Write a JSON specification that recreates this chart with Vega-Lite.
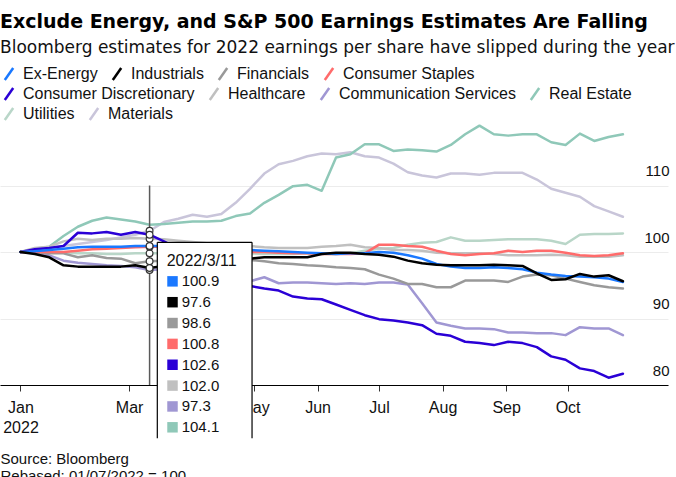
{
"$schema":"https://vega.github.io/schema/vega-lite/v6.json",
"width":668,"height":266,
"autosize":{"type":"none"},
"padding":{"left":0,"top":119,"right":8,"bottom":92},
"background":"#ffffff",
"title":{"text":"Exclude Energy, and S&P 500 Earnings Estimates Are Falling","subtitle":"Bloomberg estimates for 2022 earnings per share have slipped during the year","anchor":"start","frame":"group","offset":10,"font":"DejaVu Sans","fontSize":19,"fontWeight":"bold","color":"#000000","subtitleFont":"DejaVu Sans","subtitleFontSize":17,"subtitleColor":"#111111","subtitlePadding":8},
"config":{"view":{"stroke":null},"font":"Liberation Sans","axis":{"labelFont":"Liberation Sans","titleFont":"Liberation Sans"},
"legend":{"orient":"none","legendX":1,"direction":"horizontal","symbolType":"M-0.7,1L0.7,-1","symbolSize":144,"symbolStrokeWidth":2.5,"labelFont":"Liberation Sans","labelFontSize":16,"labelColor":"#111111","labelOffset":6,"labelLimit":300,"columnPadding":9,"title":null}},
"data":{"format":{"parse":{"date":"utc:'%Y-%m-%d'"}},"values":[
{"date":"2022-01-07","sector":"Materials","value":100.0},{"date":"2022-01-14","sector":"Materials","value":100.3},{"date":"2022-01-21","sector":"Materials","value":100.6},{"date":"2022-01-28","sector":"Materials","value":100.9},{"date":"2022-02-04","sector":"Materials","value":101.2},{"date":"2022-02-11","sector":"Materials","value":101.5},{"date":"2022-02-18","sector":"Materials","value":101.8},{"date":"2022-02-25","sector":"Materials","value":102.2},{"date":"2022-03-04","sector":"Materials","value":102.6},{"date":"2022-03-11","sector":"Materials","value":103.2},{"date":"2022-03-18","sector":"Materials","value":104.5},{"date":"2022-03-25","sector":"Materials","value":105.0},{"date":"2022-04-01","sector":"Materials","value":105.6},{"date":"2022-04-08","sector":"Materials","value":105.3},{"date":"2022-04-15","sector":"Materials","value":105.7},{"date":"2022-04-22","sector":"Materials","value":107.4},{"date":"2022-04-29","sector":"Materials","value":109.5},{"date":"2022-05-06","sector":"Materials","value":111.8},{"date":"2022-05-13","sector":"Materials","value":113.2},{"date":"2022-05-20","sector":"Materials","value":113.7},{"date":"2022-05-27","sector":"Materials","value":114.4},{"date":"2022-06-03","sector":"Materials","value":114.8},{"date":"2022-06-10","sector":"Materials","value":114.7},{"date":"2022-06-17","sector":"Materials","value":115.0},{"date":"2022-06-24","sector":"Materials","value":114.4},{"date":"2022-07-01","sector":"Materials","value":114.2},{"date":"2022-07-08","sector":"Materials","value":113.3},{"date":"2022-07-15","sector":"Materials","value":112.0},{"date":"2022-07-22","sector":"Materials","value":111.5},{"date":"2022-07-29","sector":"Materials","value":111.2},{"date":"2022-08-05","sector":"Materials","value":111.8},{"date":"2022-08-12","sector":"Materials","value":111.8},{"date":"2022-08-19","sector":"Materials","value":111.6},{"date":"2022-08-26","sector":"Materials","value":111.9},{"date":"2022-09-02","sector":"Materials","value":111.9},{"date":"2022-09-09","sector":"Materials","value":111.9},{"date":"2022-09-16","sector":"Materials","value":110.9},{"date":"2022-09-23","sector":"Materials","value":109.5},{"date":"2022-09-30","sector":"Materials","value":108.9},{"date":"2022-10-07","sector":"Materials","value":108.3},{"date":"2022-10-14","sector":"Materials","value":106.9},{"date":"2022-10-21","sector":"Materials","value":106.1},{"date":"2022-10-28","sector":"Materials","value":105.3},
{"date":"2022-01-07","sector":"Real Estate","value":100.0},{"date":"2022-01-14","sector":"Real Estate","value":100.5},{"date":"2022-01-21","sector":"Real Estate","value":100.8},{"date":"2022-01-28","sector":"Real Estate","value":102.4},{"date":"2022-02-04","sector":"Real Estate","value":103.8},{"date":"2022-02-11","sector":"Real Estate","value":104.7},{"date":"2022-02-18","sector":"Real Estate","value":105.2},{"date":"2022-02-25","sector":"Real Estate","value":104.9},{"date":"2022-03-04","sector":"Real Estate","value":104.6},{"date":"2022-03-11","sector":"Real Estate","value":104.1},{"date":"2022-03-18","sector":"Real Estate","value":104.2},{"date":"2022-03-25","sector":"Real Estate","value":104.4},{"date":"2022-04-01","sector":"Real Estate","value":104.6},{"date":"2022-04-08","sector":"Real Estate","value":104.6},{"date":"2022-04-15","sector":"Real Estate","value":104.7},{"date":"2022-04-22","sector":"Real Estate","value":105.4},{"date":"2022-04-29","sector":"Real Estate","value":105.8},{"date":"2022-05-06","sector":"Real Estate","value":107.4},{"date":"2022-05-13","sector":"Real Estate","value":108.6},{"date":"2022-05-20","sector":"Real Estate","value":109.9},{"date":"2022-05-27","sector":"Real Estate","value":110.1},{"date":"2022-06-03","sector":"Real Estate","value":109.2},{"date":"2022-06-10","sector":"Real Estate","value":114.2},{"date":"2022-06-17","sector":"Real Estate","value":114.7},{"date":"2022-06-24","sector":"Real Estate","value":116.2},{"date":"2022-07-01","sector":"Real Estate","value":116.2},{"date":"2022-07-08","sector":"Real Estate","value":115.2},{"date":"2022-07-15","sector":"Real Estate","value":115.4},{"date":"2022-07-22","sector":"Real Estate","value":115.3},{"date":"2022-07-29","sector":"Real Estate","value":115.1},{"date":"2022-08-05","sector":"Real Estate","value":116.1},{"date":"2022-08-12","sector":"Real Estate","value":117.7},{"date":"2022-08-19","sector":"Real Estate","value":119.0},{"date":"2022-08-26","sector":"Real Estate","value":117.7},{"date":"2022-09-02","sector":"Real Estate","value":117.5},{"date":"2022-09-09","sector":"Real Estate","value":117.7},{"date":"2022-09-16","sector":"Real Estate","value":117.7},{"date":"2022-09-23","sector":"Real Estate","value":116.5},{"date":"2022-09-30","sector":"Real Estate","value":116.1},{"date":"2022-10-07","sector":"Real Estate","value":117.8},{"date":"2022-10-14","sector":"Real Estate","value":116.7},{"date":"2022-10-21","sector":"Real Estate","value":117.3},{"date":"2022-10-28","sector":"Real Estate","value":117.7},
{"date":"2022-01-07","sector":"Utilities","value":100.0},{"date":"2022-01-14","sector":"Utilities","value":100.1},{"date":"2022-01-21","sector":"Utilities","value":100.0},{"date":"2022-01-28","sector":"Utilities","value":99.9},{"date":"2022-02-04","sector":"Utilities","value":99.8},{"date":"2022-02-11","sector":"Utilities","value":99.8},{"date":"2022-02-18","sector":"Utilities","value":99.7},{"date":"2022-02-25","sector":"Utilities","value":99.7},{"date":"2022-03-04","sector":"Utilities","value":99.8},{"date":"2022-03-11","sector":"Utilities","value":99.8},{"date":"2022-03-18","sector":"Utilities","value":99.8},{"date":"2022-03-25","sector":"Utilities","value":99.8},{"date":"2022-04-01","sector":"Utilities","value":99.7},{"date":"2022-04-08","sector":"Utilities","value":99.7},{"date":"2022-04-15","sector":"Utilities","value":99.7},{"date":"2022-04-22","sector":"Utilities","value":99.7},{"date":"2022-04-29","sector":"Utilities","value":99.8},{"date":"2022-05-06","sector":"Utilities","value":99.7},{"date":"2022-05-13","sector":"Utilities","value":99.7},{"date":"2022-05-20","sector":"Utilities","value":99.7},{"date":"2022-05-27","sector":"Utilities","value":99.8},{"date":"2022-06-03","sector":"Utilities","value":99.7},{"date":"2022-06-10","sector":"Utilities","value":99.7},{"date":"2022-06-17","sector":"Utilities","value":99.8},{"date":"2022-06-24","sector":"Utilities","value":100.2},{"date":"2022-07-01","sector":"Utilities","value":100.5},{"date":"2022-07-08","sector":"Utilities","value":100.6},{"date":"2022-07-15","sector":"Utilities","value":101.1},{"date":"2022-07-22","sector":"Utilities","value":101.4},{"date":"2022-07-29","sector":"Utilities","value":101.5},{"date":"2022-08-05","sector":"Utilities","value":102.2},{"date":"2022-08-12","sector":"Utilities","value":101.7},{"date":"2022-08-19","sector":"Utilities","value":101.7},{"date":"2022-08-26","sector":"Utilities","value":101.8},{"date":"2022-09-02","sector":"Utilities","value":101.9},{"date":"2022-09-09","sector":"Utilities","value":101.9},{"date":"2022-09-16","sector":"Utilities","value":101.9},{"date":"2022-09-23","sector":"Utilities","value":101.7},{"date":"2022-09-30","sector":"Utilities","value":101.2},{"date":"2022-10-07","sector":"Utilities","value":102.6},{"date":"2022-10-14","sector":"Utilities","value":102.7},{"date":"2022-10-21","sector":"Utilities","value":102.7},{"date":"2022-10-28","sector":"Utilities","value":102.8},
{"date":"2022-01-07","sector":"Healthcare","value":100.0},{"date":"2022-01-14","sector":"Healthcare","value":100.6},{"date":"2022-01-21","sector":"Healthcare","value":100.8},{"date":"2022-01-28","sector":"Healthcare","value":101.6},{"date":"2022-02-04","sector":"Healthcare","value":102.0},{"date":"2022-02-11","sector":"Healthcare","value":101.8},{"date":"2022-02-18","sector":"Healthcare","value":102.0},{"date":"2022-02-25","sector":"Healthcare","value":102.0},{"date":"2022-03-04","sector":"Healthcare","value":102.1},{"date":"2022-03-11","sector":"Healthcare","value":102.0},{"date":"2022-03-18","sector":"Healthcare","value":101.9},{"date":"2022-03-25","sector":"Healthcare","value":101.7},{"date":"2022-04-01","sector":"Healthcare","value":101.5},{"date":"2022-04-08","sector":"Healthcare","value":101.3},{"date":"2022-04-15","sector":"Healthcare","value":101.1},{"date":"2022-04-22","sector":"Healthcare","value":101.0},{"date":"2022-04-29","sector":"Healthcare","value":100.9},{"date":"2022-05-06","sector":"Healthcare","value":100.7},{"date":"2022-05-13","sector":"Healthcare","value":100.6},{"date":"2022-05-20","sector":"Healthcare","value":100.6},{"date":"2022-05-27","sector":"Healthcare","value":100.6},{"date":"2022-06-03","sector":"Healthcare","value":100.8},{"date":"2022-06-10","sector":"Healthcare","value":100.9},{"date":"2022-06-17","sector":"Healthcare","value":101.1},{"date":"2022-06-24","sector":"Healthcare","value":100.7},{"date":"2022-07-01","sector":"Healthcare","value":100.6},{"date":"2022-07-08","sector":"Healthcare","value":100.3},{"date":"2022-07-15","sector":"Healthcare","value":100.3},{"date":"2022-07-22","sector":"Healthcare","value":100.2},{"date":"2022-07-29","sector":"Healthcare","value":99.9},{"date":"2022-08-05","sector":"Healthcare","value":99.8},{"date":"2022-08-12","sector":"Healthcare","value":99.8},{"date":"2022-08-19","sector":"Healthcare","value":99.8},{"date":"2022-08-26","sector":"Healthcare","value":99.7},{"date":"2022-09-02","sector":"Healthcare","value":99.5},{"date":"2022-09-09","sector":"Healthcare","value":99.5},{"date":"2022-09-16","sector":"Healthcare","value":99.5},{"date":"2022-09-23","sector":"Healthcare","value":99.6},{"date":"2022-09-30","sector":"Healthcare","value":99.5},{"date":"2022-10-07","sector":"Healthcare","value":99.3},{"date":"2022-10-14","sector":"Healthcare","value":99.3},{"date":"2022-10-21","sector":"Healthcare","value":99.3},{"date":"2022-10-28","sector":"Healthcare","value":99.5},
{"date":"2022-01-07","sector":"Communication Services","value":100.0},{"date":"2022-01-14","sector":"Communication Services","value":99.8},{"date":"2022-01-21","sector":"Communication Services","value":99.5},{"date":"2022-01-28","sector":"Communication Services","value":98.7},{"date":"2022-02-04","sector":"Communication Services","value":98.4},{"date":"2022-02-11","sector":"Communication Services","value":98.2},{"date":"2022-02-18","sector":"Communication Services","value":98.0},{"date":"2022-02-25","sector":"Communication Services","value":97.9},{"date":"2022-03-04","sector":"Communication Services","value":97.7},{"date":"2022-03-11","sector":"Communication Services","value":97.3},{"date":"2022-03-18","sector":"Communication Services","value":97.4},{"date":"2022-03-25","sector":"Communication Services","value":97.2},{"date":"2022-04-01","sector":"Communication Services","value":97.0},{"date":"2022-04-08","sector":"Communication Services","value":96.9},{"date":"2022-04-15","sector":"Communication Services","value":96.6},{"date":"2022-04-22","sector":"Communication Services","value":96.2},{"date":"2022-04-29","sector":"Communication Services","value":95.6},{"date":"2022-05-06","sector":"Communication Services","value":96.2},{"date":"2022-05-13","sector":"Communication Services","value":95.3},{"date":"2022-05-20","sector":"Communication Services","value":95.4},{"date":"2022-05-27","sector":"Communication Services","value":95.4},{"date":"2022-06-03","sector":"Communication Services","value":95.3},{"date":"2022-06-10","sector":"Communication Services","value":95.2},{"date":"2022-06-17","sector":"Communication Services","value":95.3},{"date":"2022-06-24","sector":"Communication Services","value":95.2},{"date":"2022-07-01","sector":"Communication Services","value":95.4},{"date":"2022-07-08","sector":"Communication Services","value":95.4},{"date":"2022-07-15","sector":"Communication Services","value":95.1},{"date":"2022-07-22","sector":"Communication Services","value":92.3},{"date":"2022-07-29","sector":"Communication Services","value":89.4},{"date":"2022-08-05","sector":"Communication Services","value":88.9},{"date":"2022-08-12","sector":"Communication Services","value":88.5},{"date":"2022-08-19","sector":"Communication Services","value":88.5},{"date":"2022-08-26","sector":"Communication Services","value":88.4},{"date":"2022-09-02","sector":"Communication Services","value":87.9},{"date":"2022-09-09","sector":"Communication Services","value":87.9},{"date":"2022-09-16","sector":"Communication Services","value":87.8},{"date":"2022-09-23","sector":"Communication Services","value":87.8},{"date":"2022-09-30","sector":"Communication Services","value":87.5},{"date":"2022-10-07","sector":"Communication Services","value":88.7},{"date":"2022-10-14","sector":"Communication Services","value":88.5},{"date":"2022-10-21","sector":"Communication Services","value":88.5},{"date":"2022-10-28","sector":"Communication Services","value":87.5},
{"date":"2022-01-07","sector":"Financials","value":100.0},{"date":"2022-01-14","sector":"Financials","value":99.9},{"date":"2022-01-21","sector":"Financials","value":99.8},{"date":"2022-01-28","sector":"Financials","value":99.8},{"date":"2022-02-04","sector":"Financials","value":99.2},{"date":"2022-02-11","sector":"Financials","value":99.5},{"date":"2022-02-18","sector":"Financials","value":99.1},{"date":"2022-02-25","sector":"Financials","value":99.0},{"date":"2022-03-04","sector":"Financials","value":98.3},{"date":"2022-03-11","sector":"Financials","value":98.6},{"date":"2022-03-18","sector":"Financials","value":98.7},{"date":"2022-03-25","sector":"Financials","value":98.9},{"date":"2022-04-01","sector":"Financials","value":98.8},{"date":"2022-04-08","sector":"Financials","value":98.9},{"date":"2022-04-15","sector":"Financials","value":98.8},{"date":"2022-04-22","sector":"Financials","value":98.8},{"date":"2022-04-29","sector":"Financials","value":98.8},{"date":"2022-05-06","sector":"Financials","value":98.6},{"date":"2022-05-13","sector":"Financials","value":98.3},{"date":"2022-05-20","sector":"Financials","value":98.2},{"date":"2022-05-27","sector":"Financials","value":98.0},{"date":"2022-06-03","sector":"Financials","value":97.9},{"date":"2022-06-10","sector":"Financials","value":97.7},{"date":"2022-06-17","sector":"Financials","value":97.6},{"date":"2022-06-24","sector":"Financials","value":97.4},{"date":"2022-07-01","sector":"Financials","value":96.6},{"date":"2022-07-08","sector":"Financials","value":96.0},{"date":"2022-07-15","sector":"Financials","value":95.2},{"date":"2022-07-22","sector":"Financials","value":95.2},{"date":"2022-07-29","sector":"Financials","value":94.7},{"date":"2022-08-05","sector":"Financials","value":94.7},{"date":"2022-08-12","sector":"Financials","value":95.7},{"date":"2022-08-19","sector":"Financials","value":95.7},{"date":"2022-08-26","sector":"Financials","value":95.7},{"date":"2022-09-02","sector":"Financials","value":95.5},{"date":"2022-09-09","sector":"Financials","value":96.3},{"date":"2022-09-16","sector":"Financials","value":96.6},{"date":"2022-09-23","sector":"Financials","value":96.5},{"date":"2022-09-30","sector":"Financials","value":96.0},{"date":"2022-10-07","sector":"Financials","value":95.5},{"date":"2022-10-14","sector":"Financials","value":95.0},{"date":"2022-10-21","sector":"Financials","value":94.7},{"date":"2022-10-28","sector":"Financials","value":94.5},
{"date":"2022-01-07","sector":"Consumer Staples","value":100.0},{"date":"2022-01-14","sector":"Consumer Staples","value":100.0},{"date":"2022-01-21","sector":"Consumer Staples","value":100.0},{"date":"2022-01-28","sector":"Consumer Staples","value":100.0},{"date":"2022-02-04","sector":"Consumer Staples","value":100.2},{"date":"2022-02-11","sector":"Consumer Staples","value":100.4},{"date":"2022-02-18","sector":"Consumer Staples","value":100.5},{"date":"2022-02-25","sector":"Consumer Staples","value":100.6},{"date":"2022-03-04","sector":"Consumer Staples","value":100.7},{"date":"2022-03-11","sector":"Consumer Staples","value":100.8},{"date":"2022-03-18","sector":"Consumer Staples","value":100.8},{"date":"2022-03-25","sector":"Consumer Staples","value":100.6},{"date":"2022-04-01","sector":"Consumer Staples","value":100.4},{"date":"2022-04-08","sector":"Consumer Staples","value":100.3},{"date":"2022-04-15","sector":"Consumer Staples","value":100.2},{"date":"2022-04-22","sector":"Consumer Staples","value":100.1},{"date":"2022-04-29","sector":"Consumer Staples","value":100.0},{"date":"2022-05-06","sector":"Consumer Staples","value":100.0},{"date":"2022-05-13","sector":"Consumer Staples","value":99.9},{"date":"2022-05-20","sector":"Consumer Staples","value":99.8},{"date":"2022-05-27","sector":"Consumer Staples","value":99.8},{"date":"2022-06-03","sector":"Consumer Staples","value":99.7},{"date":"2022-06-10","sector":"Consumer Staples","value":99.7},{"date":"2022-06-17","sector":"Consumer Staples","value":99.7},{"date":"2022-06-24","sector":"Consumer Staples","value":99.8},{"date":"2022-07-01","sector":"Consumer Staples","value":101.1},{"date":"2022-07-08","sector":"Consumer Staples","value":101.1},{"date":"2022-07-15","sector":"Consumer Staples","value":100.9},{"date":"2022-07-22","sector":"Consumer Staples","value":100.8},{"date":"2022-07-29","sector":"Consumer Staples","value":100.2},{"date":"2022-08-05","sector":"Consumer Staples","value":99.7},{"date":"2022-08-12","sector":"Consumer Staples","value":99.5},{"date":"2022-08-19","sector":"Consumer Staples","value":99.7},{"date":"2022-08-26","sector":"Consumer Staples","value":99.8},{"date":"2022-09-02","sector":"Consumer Staples","value":100.2},{"date":"2022-09-09","sector":"Consumer Staples","value":100.0},{"date":"2022-09-16","sector":"Consumer Staples","value":100.2},{"date":"2022-09-23","sector":"Consumer Staples","value":100.2},{"date":"2022-09-30","sector":"Consumer Staples","value":99.9},{"date":"2022-10-07","sector":"Consumer Staples","value":99.5},{"date":"2022-10-14","sector":"Consumer Staples","value":99.4},{"date":"2022-10-21","sector":"Consumer Staples","value":99.5},{"date":"2022-10-28","sector":"Consumer Staples","value":99.8},
{"date":"2022-01-07","sector":"Consumer Discretionary","value":100.0},{"date":"2022-01-14","sector":"Consumer Discretionary","value":100.4},{"date":"2022-01-21","sector":"Consumer Discretionary","value":100.6},{"date":"2022-01-28","sector":"Consumer Discretionary","value":100.9},{"date":"2022-02-04","sector":"Consumer Discretionary","value":102.9},{"date":"2022-02-11","sector":"Consumer Discretionary","value":102.8},{"date":"2022-02-18","sector":"Consumer Discretionary","value":103.0},{"date":"2022-02-25","sector":"Consumer Discretionary","value":102.6},{"date":"2022-03-04","sector":"Consumer Discretionary","value":103.0},{"date":"2022-03-11","sector":"Consumer Discretionary","value":102.6},{"date":"2022-03-18","sector":"Consumer Discretionary","value":101.6},{"date":"2022-03-25","sector":"Consumer Discretionary","value":100.5},{"date":"2022-04-01","sector":"Consumer Discretionary","value":99.3},{"date":"2022-04-08","sector":"Consumer Discretionary","value":98.0},{"date":"2022-04-15","sector":"Consumer Discretionary","value":96.9},{"date":"2022-04-22","sector":"Consumer Discretionary","value":95.8},{"date":"2022-04-29","sector":"Consumer Discretionary","value":94.9},{"date":"2022-05-06","sector":"Consumer Discretionary","value":94.5},{"date":"2022-05-13","sector":"Consumer Discretionary","value":94.2},{"date":"2022-05-20","sector":"Consumer Discretionary","value":93.3},{"date":"2022-05-27","sector":"Consumer Discretionary","value":93.0},{"date":"2022-06-03","sector":"Consumer Discretionary","value":92.9},{"date":"2022-06-10","sector":"Consumer Discretionary","value":92.1},{"date":"2022-06-17","sector":"Consumer Discretionary","value":91.3},{"date":"2022-06-24","sector":"Consumer Discretionary","value":90.5},{"date":"2022-07-01","sector":"Consumer Discretionary","value":89.9},{"date":"2022-07-08","sector":"Consumer Discretionary","value":89.7},{"date":"2022-07-15","sector":"Consumer Discretionary","value":89.4},{"date":"2022-07-22","sector":"Consumer Discretionary","value":89.0},{"date":"2022-07-29","sector":"Consumer Discretionary","value":87.7},{"date":"2022-08-05","sector":"Consumer Discretionary","value":87.4},{"date":"2022-08-12","sector":"Consumer Discretionary","value":86.5},{"date":"2022-08-19","sector":"Consumer Discretionary","value":86.3},{"date":"2022-08-26","sector":"Consumer Discretionary","value":86.0},{"date":"2022-09-02","sector":"Consumer Discretionary","value":86.5},{"date":"2022-09-09","sector":"Consumer Discretionary","value":86.3},{"date":"2022-09-16","sector":"Consumer Discretionary","value":85.7},{"date":"2022-09-23","sector":"Consumer Discretionary","value":84.3},{"date":"2022-09-30","sector":"Consumer Discretionary","value":83.8},{"date":"2022-10-07","sector":"Consumer Discretionary","value":82.5},{"date":"2022-10-14","sector":"Consumer Discretionary","value":82.1},{"date":"2022-10-21","sector":"Consumer Discretionary","value":81.1},{"date":"2022-10-28","sector":"Consumer Discretionary","value":81.7},
{"date":"2022-01-07","sector":"Ex-Energy","value":100.0},{"date":"2022-01-14","sector":"Ex-Energy","value":100.1},{"date":"2022-01-21","sector":"Ex-Energy","value":100.3},{"date":"2022-01-28","sector":"Ex-Energy","value":100.5},{"date":"2022-02-04","sector":"Ex-Energy","value":100.7},{"date":"2022-02-11","sector":"Ex-Energy","value":100.8},{"date":"2022-02-18","sector":"Ex-Energy","value":100.8},{"date":"2022-02-25","sector":"Ex-Energy","value":100.8},{"date":"2022-03-04","sector":"Ex-Energy","value":100.9},{"date":"2022-03-11","sector":"Ex-Energy","value":100.9},{"date":"2022-03-18","sector":"Ex-Energy","value":100.9},{"date":"2022-03-25","sector":"Ex-Energy","value":100.8},{"date":"2022-04-01","sector":"Ex-Energy","value":100.7},{"date":"2022-04-08","sector":"Ex-Energy","value":100.6},{"date":"2022-04-15","sector":"Ex-Energy","value":100.5},{"date":"2022-04-22","sector":"Ex-Energy","value":100.4},{"date":"2022-04-29","sector":"Ex-Energy","value":100.3},{"date":"2022-05-06","sector":"Ex-Energy","value":100.2},{"date":"2022-05-13","sector":"Ex-Energy","value":100.1},{"date":"2022-05-20","sector":"Ex-Energy","value":100.0},{"date":"2022-05-27","sector":"Ex-Energy","value":99.9},{"date":"2022-06-03","sector":"Ex-Energy","value":99.8},{"date":"2022-06-10","sector":"Ex-Energy","value":99.7},{"date":"2022-06-17","sector":"Ex-Energy","value":99.8},{"date":"2022-06-24","sector":"Ex-Energy","value":99.8},{"date":"2022-07-01","sector":"Ex-Energy","value":100.0},{"date":"2022-07-08","sector":"Ex-Energy","value":99.9},{"date":"2022-07-15","sector":"Ex-Energy","value":99.5},{"date":"2022-07-22","sector":"Ex-Energy","value":99.0},{"date":"2022-07-29","sector":"Ex-Energy","value":98.2},{"date":"2022-08-05","sector":"Ex-Energy","value":97.8},{"date":"2022-08-12","sector":"Ex-Energy","value":97.6},{"date":"2022-08-19","sector":"Ex-Energy","value":97.6},{"date":"2022-08-26","sector":"Ex-Energy","value":97.7},{"date":"2022-09-02","sector":"Ex-Energy","value":97.6},{"date":"2022-09-09","sector":"Ex-Energy","value":97.4},{"date":"2022-09-16","sector":"Ex-Energy","value":96.9},{"date":"2022-09-23","sector":"Ex-Energy","value":96.6},{"date":"2022-09-30","sector":"Ex-Energy","value":96.4},{"date":"2022-10-07","sector":"Ex-Energy","value":96.3},{"date":"2022-10-14","sector":"Ex-Energy","value":96.2},{"date":"2022-10-21","sector":"Ex-Energy","value":96.0},{"date":"2022-10-28","sector":"Ex-Energy","value":95.5},
{"date":"2022-01-07","sector":"Industrials","value":100.0},{"date":"2022-01-14","sector":"Industrials","value":99.7},{"date":"2022-01-21","sector":"Industrials","value":99.2},{"date":"2022-01-28","sector":"Industrials","value":98.0},{"date":"2022-02-04","sector":"Industrials","value":97.8},{"date":"2022-02-11","sector":"Industrials","value":97.8},{"date":"2022-02-18","sector":"Industrials","value":97.8},{"date":"2022-02-25","sector":"Industrials","value":97.8},{"date":"2022-03-04","sector":"Industrials","value":98.0},{"date":"2022-03-11","sector":"Industrials","value":97.6},{"date":"2022-03-18","sector":"Industrials","value":97.9},{"date":"2022-03-25","sector":"Industrials","value":98.2},{"date":"2022-04-01","sector":"Industrials","value":98.5},{"date":"2022-04-08","sector":"Industrials","value":98.7},{"date":"2022-04-15","sector":"Industrials","value":98.9},{"date":"2022-04-22","sector":"Industrials","value":99.0},{"date":"2022-04-29","sector":"Industrials","value":99.0},{"date":"2022-05-06","sector":"Industrials","value":99.2},{"date":"2022-05-13","sector":"Industrials","value":99.2},{"date":"2022-05-20","sector":"Industrials","value":99.2},{"date":"2022-05-27","sector":"Industrials","value":99.2},{"date":"2022-06-03","sector":"Industrials","value":99.7},{"date":"2022-06-10","sector":"Industrials","value":99.9},{"date":"2022-06-17","sector":"Industrials","value":99.9},{"date":"2022-06-24","sector":"Industrials","value":99.7},{"date":"2022-07-01","sector":"Industrials","value":99.6},{"date":"2022-07-08","sector":"Industrials","value":99.3},{"date":"2022-07-15","sector":"Industrials","value":98.7},{"date":"2022-07-22","sector":"Industrials","value":98.3},{"date":"2022-07-29","sector":"Industrials","value":98.1},{"date":"2022-08-05","sector":"Industrials","value":98.0},{"date":"2022-08-12","sector":"Industrials","value":98.0},{"date":"2022-08-19","sector":"Industrials","value":98.0},{"date":"2022-08-26","sector":"Industrials","value":98.1},{"date":"2022-09-02","sector":"Industrials","value":98.0},{"date":"2022-09-09","sector":"Industrials","value":97.9},{"date":"2022-09-16","sector":"Industrials","value":96.8},{"date":"2022-09-23","sector":"Industrials","value":95.8},{"date":"2022-09-30","sector":"Industrials","value":95.9},{"date":"2022-10-07","sector":"Industrials","value":96.7},{"date":"2022-10-14","sector":"Industrials","value":96.3},{"date":"2022-10-21","sector":"Industrials","value":96.5},{"date":"2022-10-28","sector":"Industrials","value":95.6}
]},
"layer":[
{"layer":[
{"transform":[{"filter":"datum.sector === 'Utilities' || datum.sector === 'Materials'"}],
"mark":{"type":"line","strokeWidth":2.5,"strokeJoin":"round","strokeCap":"round"},
"encoding":{
"x":{"field":"date","type":"temporal","scale":{"type":"utc","domain":[{"year":2021,"month":12,"date":28,"utc":true},{"year":2022,"month":11,"date":19,"utc":true}]},
"axis":{"values":[{"year":2022,"month":1,"date":7,"utc":true},{"year":2022,"month":3,"date":1,"utc":true},{"year":2022,"month":5,"date":1,"utc":true},{"year":2022,"month":6,"date":1,"utc":true},{"year":2022,"month":7,"date":1,"utc":true},{"year":2022,"month":8,"date":1,"utc":true},{"year":2022,"month":9,"date":1,"utc":true},{"year":2022,"month":10,"date":1,"utc":true}],
"labelExpr":"utcmonth(datum.value) === 0 ? [utcFormat(datum.value, '%b'), '2022'] : utcFormat(datum.value, '%b')",
"grid":false,"domainColor":"#000000","domainWidth":1,"tickColor":"#333333","tickSize":6,"tickWidth":1,"labelPadding":8,"labelFontSize":16,"labelColor":"#111111","labelLineHeight":20,"labelAlign":"center","labelFlush":false,"labelOverlap":false,
"title":["Source: Bloomberg","Rebased: 01/07/2022 = 100"],"titleX":0,"titleY":78,"titleAlign":"left","titleAnchor":"start","titleBaseline":"alphabetic","titleFontSize":15,"titleFontWeight":"normal","titleColor":"#111111","titleLineHeight":17}},
"y":{"field":"value","type":"quantitative","scale":{"domain":[80,120],"nice":false,"zero":false},
"axis":{"orient":"right","values":[80,90,100,110],"grid":true,"gridColor":"#ececec","gridWidth":1,"domain":false,"ticks":false,"tickSize":0,"labelAlign":"right","labelBaseline":"alphabetic","labelOffset":-10,"labelPadding":1,"labelFontSize":15,"labelColor":"#111111","title":null}},
"color":{"field":"sector","type":"nominal","scale":{"domain":["Utilities","Materials"],"range":["#b9d6c8","#c9c5da"]},"legend":{"legendY":-13}}
}},
{"transform":[{"filter":"datum.sector === 'Consumer Discretionary' || datum.sector === 'Healthcare' || datum.sector === 'Communication Services' || datum.sector === 'Real Estate'"}],
"mark":{"type":"line","strokeWidth":2.5,"strokeJoin":"round","strokeCap":"round"},
"encoding":{"x":{"field":"date","type":"temporal"},"y":{"field":"value","type":"quantitative"},
"color":{"field":"sector","type":"nominal","scale":{"domain":["Consumer Discretionary","Healthcare","Communication Services","Real Estate"],"range":["#2a00d6","#c0c0c0","#a097d3","#8fc8b8"]},"legend":{"legendY":-33}}}},
{"transform":[{"filter":"datum.sector === 'Ex-Energy' || datum.sector === 'Industrials' || datum.sector === 'Financials' || datum.sector === 'Consumer Staples'"}],
"mark":{"type":"line","strokeWidth":2.5,"strokeJoin":"round","strokeCap":"round"},
"encoding":{"x":{"field":"date","type":"temporal"},"y":{"field":"value","type":"quantitative"},
"color":{"field":"sector","type":"nominal","scale":{"domain":["Ex-Energy","Industrials","Financials","Consumer Staples"],"range":["#1a78ff","#000000","#999999","#ff6b6b"]},"legend":{"legendY":-53}}}},
{"data":{"values":[{}]},"mark":{"type":"rule","color":"#5a5a5a","strokeWidth":1.5},
"encoding":{"x":{"datum":{"year":2022,"month":3,"date":11,"utc":true},"type":"temporal"},"y":{"datum":110,"type":"quantitative"},"y2":{"datum":80}}},
{"transform":[{"filter":"utcmonth(datum.date) === 2 && utcdate(datum.date) === 11 && datum.sector !== 'Real Estate'"}],
"mark":{"type":"circle","fill":"#ffffff","stroke":"#333333","strokeWidth":1.2,"size":45,"opacity":1},
"encoding":{"x":{"field":"date","type":"temporal"},"y":{"field":"value","type":"quantitative"}}},
{"data":{"values":[{}]},"mark":{"type":"rect","fill":"#ffffff"},
"encoding":{"x":{"datum":{"year":2022,"month":3,"date":14,"hours":18,"minutes":30,"utc":true},"type":"temporal"},"x2":{"datum":{"year":2022,"month":4,"date":30,"utc":true}},"y":{"datum":101.46,"type":"quantitative"},"y2":{"datum":72}}},
{"data":{"values":[{}]},"mark":{"type":"rule","color":"#000000","strokeWidth":1.2},
"encoding":{"x":{"datum":{"year":2022,"month":3,"date":14,"hours":18,"minutes":30,"utc":true},"type":"temporal"},"y":{"datum":101.46,"type":"quantitative"},"y2":{"datum":72}}},
{"data":{"values":[{}]},"mark":{"type":"rule","color":"#000000","strokeWidth":1.2},
"encoding":{"x":{"datum":{"year":2022,"month":4,"date":30,"utc":true},"type":"temporal"},"y":{"datum":101.46,"type":"quantitative"},"y2":{"datum":72}}},
{"data":{"values":[{}]},"mark":{"type":"rule","color":"#000000","strokeWidth":1.2},
"encoding":{"x":{"datum":{"year":2022,"month":3,"date":14,"hours":18,"minutes":30,"utc":true},"type":"temporal"},"x2":{"datum":{"year":2022,"month":4,"date":30,"utc":true}},"y":{"datum":101.46,"type":"quantitative"}}}
],
"resolve":{"scale":{"color":"independent"}}},
{"layer":[
{"data":{"values":[{}]},"mark":{"type":"text","align":"left","baseline":"middle","fontSize":16,"font":"Liberation Sans","color":"#111111"},
"encoding":{"x":{"datum":{"year":2022,"month":3,"date":19,"hours":8,"utc":true},"type":"temporal"},"y":{"datum":"header","type":"nominal","scale":{"type":"point","domain":["header","Ex-Energy","Industrials","Financials","Consumer Staples","Consumer Discretionary","Healthcare","Communication Services","Real Estate"],"range":[141.5,308.3],"padding":0},"axis":null},"text":{"value":"2022/3/11"}}},
{"transform":[{"filter":"utcmonth(datum.date) === 2 && utcdate(datum.date) === 11 && datum.sector !== 'Utilities' && datum.sector !== 'Materials'"}],
"mark":{"type":"square","size":110,"opacity":1},
"encoding":{"x":{"datum":{"year":2022,"month":3,"date":22,"hours":4,"minutes":30,"utc":true},"type":"temporal"},"y":{"field":"sector","type":"nominal","axis":null},"color":{"field":"sector","type":"nominal","scale":{"domain":["Ex-Energy","Industrials","Financials","Consumer Staples","Consumer Discretionary","Healthcare","Communication Services","Real Estate"],"range":["#1a78ff","#000000","#999999","#ff6b6b","#2a00d6","#c0c0c0","#a097d3","#8fc8b8"]},"legend":null}}},
{"transform":[{"filter":"utcmonth(datum.date) === 2 && utcdate(datum.date) === 11 && datum.sector !== 'Utilities' && datum.sector !== 'Materials'"}],
"mark":{"type":"text","align":"left","baseline":"middle","fontSize":15,"font":"Liberation Sans","color":"#111111"},
"encoding":{"x":{"datum":{"year":2022,"month":3,"date":26,"hours":16,"utc":true},"type":"temporal"},"y":{"field":"sector","type":"nominal","axis":null},"text":{"field":"value","type":"quantitative","format":".1f"}}}
]}
],
"resolve":{"scale":{"y":"independent","color":"independent"}}
}
